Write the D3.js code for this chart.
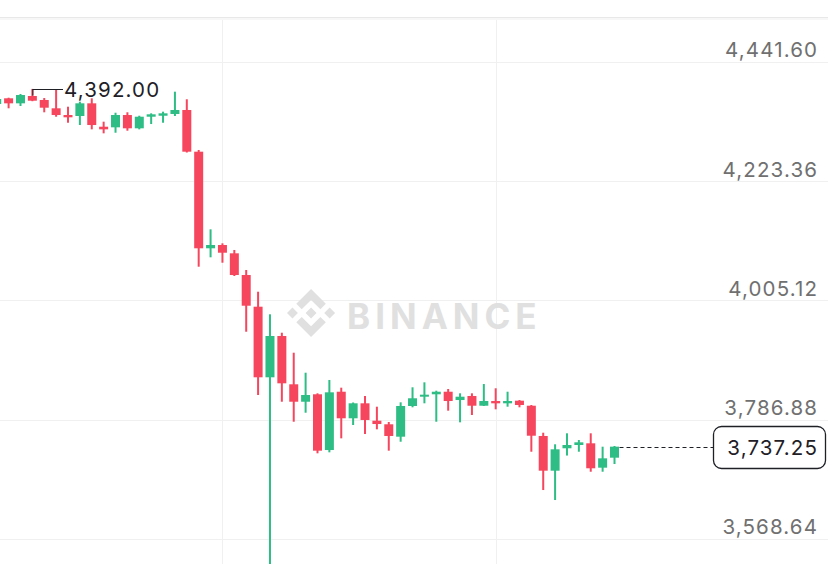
<!DOCTYPE html>
<html>
<head>
<meta charset="utf-8">
<script src="https://cdn.jsdelivr.net/npm/d3@7"></script>
<style>
  html, body { margin: 0; padding: 0; background: #ffffff; }
  svg { display: block; }
</style>
</head>
<body>
<svg id="chart" width="828" height="564"></svg>
<script>
// ---- data (candle index, OHLC) ----
const candleIndex = d3.range(-1, 52);
const opens  = [4364.4,4374.8,4365.6,4379.0,4371.7,4356.5,4344.2,4342.4,4365.6,4322.8,4321.7,4344.2,4319.9,4341.1,4342.9,4346.1,4353.4,4277.1,4100.3,4106.3,4091.1,4051.4,3993.4,3864.2,3939.8,3851.4,3819.5,3833.1,3731.1,3837.8,3789.2,3816.6,3784.8,3778.2,3755.5,3811.7,3828.7,3833.1,3837.8,3822.6,3830.0,3812.2,3820.8,3816.6,3821.4,3812.2,3756.8,3693.3,3734.3,3740.3,3743.4,3698.8,3717.1];
const highs  = [4377.2,4375.9,4382.7,4392.0,4375.3,4390.5,4359.4,4368.6,4374.8,4332.0,4348.4,4349.2,4342.9,4347.3,4350.3,4386.9,4373.0,4280.2,4135.0,4109.4,4097.2,4060.6,4020.8,3979.5,3945.8,3909.2,3872.6,3834.9,3859.3,3845.2,3818.1,3830.0,3810.4,3782.4,3818.4,3845.9,3855.0,3839.7,3842.8,3834.9,3834.9,3851.9,3844.1,3837.8,3822.6,3813.5,3762.8,3741.6,3761.7,3749.4,3761.7,3737.2,3738.5];
const lows   = [4357.0,4356.5,4360.7,4369.5,4349.2,4341.1,4330.1,4325.9,4318.0,4310.7,4311.8,4315.5,4318.0,4327.7,4330.1,4342.4,4275.6,4066.6,4083.8,4073.9,4049.6,3947.6,3831.8,3515.0,3819.5,3782.9,3799.4,3725.1,3726.9,3752.5,3776.9,3760.4,3769.0,3729.9,3746.3,3809.3,3816.6,3782.9,3803.1,3781.8,3795.2,3811.7,3805.6,3810.4,3809.3,3728.0,3657.9,3639.6,3721.0,3728.0,3691.4,3691.4,3705.5];
const closes = [4373.5,4365.6,4380.8,4370.4,4357.6,4344.2,4340.0,4365.6,4325.9,4318.0,4344.2,4319.9,4341.1,4345.5,4347.3,4353.4,4277.1,4100.3,4106.3,4092.2,4051.4,3995.2,3864.2,3939.8,3853.2,3819.5,3831.8,3729.9,3836.7,3789.2,3816.6,3786.1,3778.7,3756.8,3811.7,3825.8,3832.4,3837.8,3820.8,3828.7,3812.2,3820.8,3816.6,3820.8,3813.5,3757.3,3693.3,3732.4,3740.3,3745.2,3697.7,3715.9,3737.25];

const priceTicks = [4441.60, 4223.36, 4005.12, 3786.88, 3568.64];
const timeGridIndex = [18, 41];
const highLabel = { index: 2, price: 4392.00 };
const lastPrice = 3737.25;

const candles = candleIndex.map((idx, k) => ({ idx, o: opens[k], h: highs[k], l: lows[k], c: closes[k] }));

// ---- layout ----
const W = 828, H = 564;
const topY = 17;
const svg = d3.select("#chart");
const fmt = d3.format(",.2f");

const x = d3.scaleLinear().domain([0, 51]).range([8.6, 614.5]);
const y = d3.scaleLinear().domain([3568.64, 4441.60]).range([538.8, 61.8]);

const GREEN = "#2ebd85", RED = "#f6465d";
const FONT = "Inter, 'Noto Sans', sans-serif";
const LS = 1.15;

// grid
svg.append("g").selectAll("line").data(priceTicks).join("line")
  .attr("x1", 0).attr("x2", W)
  .attr("y1", d => Math.round(y(d)) + 0.5).attr("y2", d => Math.round(y(d)) + 0.5)
  .attr("stroke", "#f0f0f0").attr("stroke-width", 1);

svg.append("g").selectAll("line").data(timeGridIndex).join("line")
  .attr("x1", d => Math.round(x(d)) + 0.5).attr("x2", d => Math.round(x(d)) + 0.5)
  .attr("y1", topY).attr("y2", H)
  .attr("stroke", "#f0f0f0").attr("stroke-width", 1);

// top border
svg.append("line").attr("x1", 0).attr("x2", W).attr("y1", topY + 0.5).attr("y2", topY + 0.5)
  .attr("stroke", "#e8e8e8").attr("stroke-width", 1);
svg.append("rect").attr("x", 0).attr("y", topY + 1).attr("width", W).attr("height", 2)
  .attr("fill", "#f7f7f7");

// watermark
const wm = svg.append("g").attr("fill", "#e0e0e0");
const logo = wm.append("g").attr("transform", "translate(287,289) scale(0.38)");
[
  "38.73,53.2 63.3,28.64 87.89,53.22 102.19,38.92 63.3,0 24.42,38.9",
  "0,63.31 14.3,49.01 28.6,63.31 14.3,77.61",
  "38.73,73.41 63.3,97.98 87.89,73.4 102.2,87.69 63.3,126.61 24.42,87.72",
  "98.01,63.31 112.31,49.01 126.61,63.31 112.31,77.61",
  "77.83,63.3 63.3,48.77 48.78,63.3 63.3,77.82"
].forEach(p => logo.append("polygon").attr("points", p));
wm.append("text").attr("x", 347).attr("y", 328.5)
  .attr("font-family", FONT).attr("font-weight", 700).attr("font-size", 35)
  .attr("letter-spacing", 5)
  .text("BINANCE");

// candles
const clip = svg.append("clipPath").attr("id", "plot")
  .append("rect").attr("x", 0).attr("y", topY + 1).attr("width", W).attr("height", H - topY);
const cg = svg.append("g").attr("clip-path", "url(#plot)");
const bodyW = 9;
const cs = cg.selectAll("g.c").data(candles).join("g").attr("class", "c")
  .attr("fill", d => d.c >= d.o ? GREEN : RED);
cs.append("rect")
  .attr("x", d => x(d.idx) - 1)
  .attr("width", 2)
  .attr("y", d => y(d.h))
  .attr("height", d => Math.max(1, y(d.l) - y(d.h)));
cs.append("rect")
  .attr("x", d => x(d.idx) - bodyW / 2)
  .attr("width", bodyW)
  .attr("y", d => y(Math.max(d.o, d.c)))
  .attr("height", d => Math.max(2, Math.abs(y(d.o) - y(d.c))));

// price axis labels
svg.append("g").selectAll("text").data(priceTicks).join("text")
  .attr("x", 817 + LS).attr("y", d => y(d) - 4.5)
  .attr("text-anchor", "end")
  .attr("font-family", FONT).attr("font-size", 20.5).attr("letter-spacing", LS)
  .attr("fill", "#707070")
  .text(d => fmt(d));

// high marker
const hx = x(highLabel.index), hy = Math.round(y(highLabel.price)) + 0.5;
svg.append("line").attr("x1", hx).attr("x2", 63).attr("y1", hy).attr("y2", hy)
  .attr("stroke", "#1e2026").attr("stroke-width", 1);
svg.append("line").attr("x1", hx + 0.5).attr("x2", hx + 0.5).attr("y1", hy).attr("y2", hy + 6)
  .attr("stroke", "#1e2026").attr("stroke-width", 1);
svg.append("text").attr("x", 64).attr("y", hy).attr("dy", "0.36em")
  .attr("font-family", FONT).attr("font-size", 20.5).attr("letter-spacing", LS).attr("fill", "#1e2026")
  .text(fmt(highLabel.price));

// last price line + box
const ly = Math.round(y(lastPrice)) + 0.5;
svg.append("line").attr("x1", x(51) + 5).attr("x2", 713).attr("y1", ly).attr("y2", ly)
  .attr("stroke", "#1e2026").attr("stroke-width", 1).attr("stroke-dasharray", "4,3");
svg.append("rect").attr("x", 713.5).attr("y", 426.5).attr("width", 112).attr("height", 42)
  .attr("rx", 8).attr("fill", "#ffffff").attr("stroke", "#1e2026").attr("stroke-width", 1.3);
svg.append("text").attr("x", 817 + LS).attr("y", 447.5).attr("dy", "0.36em")
  .attr("text-anchor", "end")
  .attr("font-family", FONT).attr("font-size", 20.5).attr("letter-spacing", LS).attr("fill", "#1e2026")
  .text(fmt(lastPrice));
</script>
</body>
</html>
